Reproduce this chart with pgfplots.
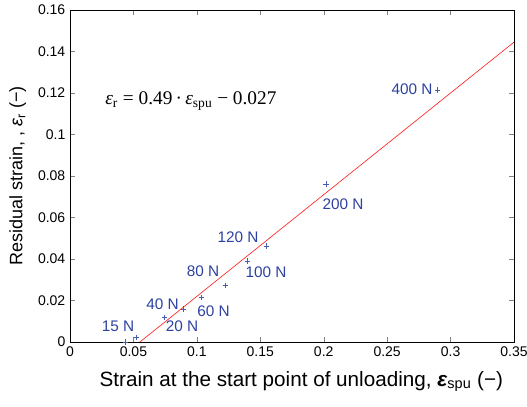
\documentclass[border=0pt]{standalone}
\usepackage{fontspec}
\setmainfont{Liberation Sans}
\newfontfamily\timesf{Liberation Serif}
\usepackage{pgfplots}
\pgfplotsset{compat=1.18}
\definecolor{ptblue}{RGB}{70,90,175}
\definecolor{lblblue}{RGB}{45,65,160}
\begin{document}
\begin{tikzpicture}
\begin{axis}[
  scale only axis, width=333pt, height=249pt,
  xmin=0, xmax=0.35, ymin=0, ymax=0.16,
  xtick={0,0.05,...,0.35}, ytick={0,0.02,...,0.16},
  scaled ticks=false,
  tick align=inside, tick pos=both,
  major tick length=4pt,
  /pgf/number format/fixed,
  /pgf/number format/assume math mode=true,
  tick label style={font=\fontsize{10.5}{12}\selectfont},
  xlabel={Strain at the start point of unloading, \textbf{\textit{ε}}\textsubscript{spu} (−)},
  ylabel={Residual strain, , \textit{ε}\textsubscript{r} (−)},
  xlabel style={font=\fontsize{15.5}{17}\selectfont, yshift=-4pt, xshift=7pt},
  ylabel style={font=\fontsize{13.5}{15}\selectfont, yshift=2pt},
  axis line style={black, line width=0.5pt},
  clip=false,
]
\coordinate (bl) at (rel axis cs:0,0);
\coordinate (tr) at (rel axis cs:1,1);
\addplot[only marks, mark=+, mark size=2pt, color=ptblue, mark options={line width=0.5pt}] coordinates {
(0.0439,0) (0.052,0.0021) (0.0743,0.0117) (0.0893,0.0159) (0.1038,0.0214)
(0.1227,0.0273) (0.140,0.039) (0.155,0.0463) (0.2018,0.0761) (0.2898,0.1214)
};
\addplot[red!85!white, line width=0.5pt, no marks] coordinates {(0.0551,0) (0.35,0.1445)};
\begin{scope}[every node/.style={font=\fontsize{11.5}{13}\selectfont, text=lblblue, inner sep=0pt}]
\node at (axis cs:0.0378,0.0077) {15 N};
\node at (axis cs:0.0883,0.0074) {20 N};
\node at (axis cs:0.0729,0.0183) {40 N};
\node at (axis cs:0.1131,0.0149) {60 N};
\node at (axis cs:0.1048,0.0342) {80 N};
\node at (axis cs:0.1545,0.0334) {100 N};
\node at (axis cs:0.1324,0.0505) {120 N};
\node at (axis cs:0.2152,0.0665) {200 N};
\node at (axis cs:0.2696,0.1218) {400 N};
\end{scope}
\node[anchor=west, inner sep=0pt, font=\timesf\fontsize{14.5}{16}\selectfont] at (axis cs:0.0276,0.1161)
  {\textit{ε}\textsubscript{r} = 0.49\,·\,\textit{ε}\textsubscript{spu} − 0.027};
\end{axis}
\pgfresetboundingbox
\path ([shift={(-52.5pt,-48pt)}]bl) rectangle ([shift={(9.75pt,7.5pt)}]tr);
\end{tikzpicture}
\end{document}
